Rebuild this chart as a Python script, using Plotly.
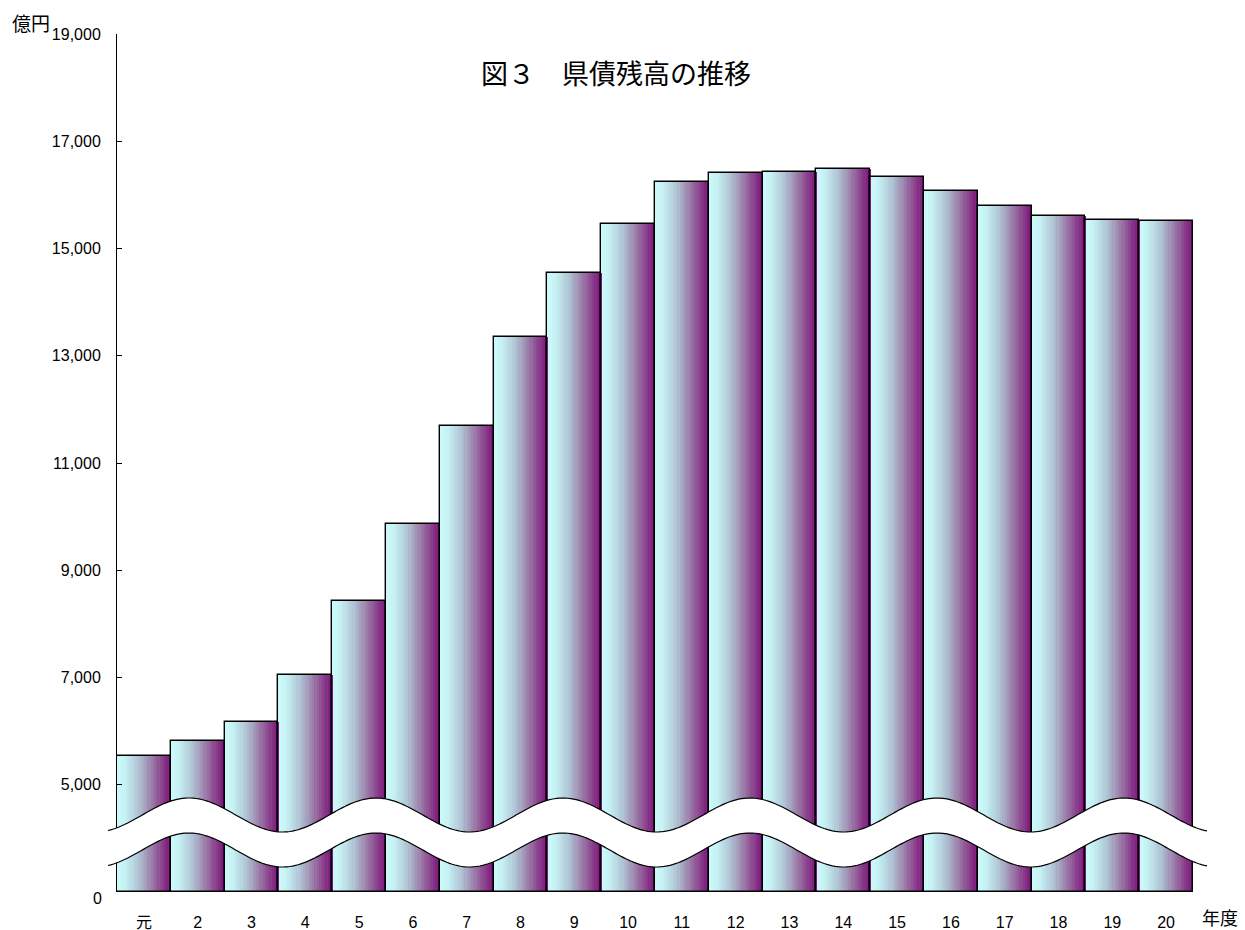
import numpy as np
import plotly.graph_objects as go
from plotly.colors import sample_colorscale

# ---- data ----
categories = ["元", "2", "3", "4", "5", "6", "7", "8", "9", "10",
              "11", "12", "13", "14", "15", "16", "17", "18", "19", "20"]
balance = [5540, 5810, 6170, 7050, 8430, 9870, 11690, 13350, 14550, 15460,
           16240, 16410, 16430, 16480, 16340, 16070, 15800, 15600, 15530, 15510]
tick_values = [5000, 7000, 9000, 11000, 13000, 15000, 17000, 19000]
tick_labels = ["5,000", "7,000", "9,000", "11,000", "13,000", "15,000", "17,000", "19,000"]
axis_floor = 3000  # broken axis: bottom of the plot (labelled "0")

# ---- layout geometry (px) ----
W, H = 1245, 930
L, R, T, B = 117, 52, 34, 38
PW, PH = W - L - R, H - T - B

grad = [[0.0, "#CCFAFA"], [0.15, "#C6F2F4"], [0.4, "#B0C4D4"],
        [0.6, "#A08AB0"], [0.8, "#8E4C92"], [1.0, "#7A1278"]]

heights = [v - axis_floor for v in balance]

fig = go.Figure()
N = 24
cols = sample_colorscale(grad, [(i + 0.5) / N for i in range(N)])
for i in range(N):
    fig.add_trace(go.Bar(
        x=categories, y=heights, base=axis_floor,
        width=1.0 / N * 1.15, offset=-0.5 + i / N,
        marker=dict(color=cols[i], line=dict(width=0)),
        hoverinfo="skip", showlegend=False))
# outline
fig.add_trace(go.Bar(
    x=categories, y=heights, base=axis_floor, width=1.0, offset=-0.5,
    marker=dict(color="rgba(0,0,0,0)", line=dict(color="black", width=1.4)),
    customdata=balance, hovertemplate="%{x}: %{customdata:,}<extra></extra>",
    showlegend=False))

# ---- break wave (decoration) ----
def px2paper(xp, yp):
    return (xp - L) / PW, (H - B - yp) / PH

xs = np.linspace(108, 1207, 400)
period = 187.0
top = 815.0 - 17.0 * np.cos(2 * np.pi * (xs - 189) / period)
bot = top + 35.0

def path_of(xv, yv):
    pts = [px2paper(a, b) for a, b in zip(xv, yv)]
    return "M " + " L ".join(f"{a:.5f},{b:.5f}" for a, b in pts)

band = path_of(np.concatenate([xs, xs[::-1]]), np.concatenate([top, bot[::-1]])) + " Z"
fig.add_shape(type="path", path=band, xref="paper", yref="paper",
              fillcolor="white", line=dict(width=0), layer="above")
fig.add_shape(type="path", path=path_of(xs, top), xref="paper", yref="paper",
              line=dict(color="black", width=1.2), layer="above")
fig.add_shape(type="path", path=path_of(xs, bot), xref="paper", yref="paper",
              line=dict(color="black", width=1.2), layer="above")

FONT = "Liberation Sans, Arial, Noto Sans CJK JP"
CJK = "Noto Sans CJK JP"

fig.update_layout(
    width=W, height=H,
    margin=dict(l=L, r=R, t=T, b=B, pad=0, autoexpand=False),
    paper_bgcolor="white", plot_bgcolor="white",
    barmode="overlay", bargap=0,
    font=dict(family=FONT, color="black", size=12),
    xaxis=dict(type="category", showgrid=False, zeroline=False, showline=False,
               automargin=False,
               ticks="", tickfont=dict(size=16, family=FONT),
               ticklabelstandoff=19, range=[-0.5, 19.5]),
    yaxis=dict(range=[axis_floor, 19000], showgrid=False, zeroline=False,
               automargin=False,
               showline=True, linecolor="black", linewidth=1,
               ticks="inside", ticklen=5, tickcolor="black",
               tickvals=tick_values, ticktext=tick_labels,
               tickfont=dict(size=16, family=FONT), ticklabelstandoff=12),
    annotations=[
        dict(text="図３　県債残高の推移", x=(616 - L) / PW, y=(H - B - 73) / PH,
             xref="paper", yref="paper", showarrow=False,
             font=dict(size=27, family=CJK), xanchor="center", yanchor="middle"),
        dict(text="億円", x=(31 - L) / PW, y=(H - B - 22) / PH,
             xref="paper", yref="paper", showarrow=False,
             font=dict(size=19, family=CJK), xanchor="center", yanchor="middle"),
        dict(text="年度", x=(1220 - L) / PW, y=(H - B - 917) / PH,
             xref="paper", yref="paper", showarrow=False, borderpad=0,
             font=dict(size=18, family=CJK), xanchor="center", yanchor="middle"),
        dict(text="0", x=(104 - L) / PW, y=(H - B - 899) / PH,
             xref="paper", yref="paper", showarrow=False,
             font=dict(size=16, family=FONT), xanchor="right", yanchor="middle"),
    ],
)

fig.write_html("out.html")
